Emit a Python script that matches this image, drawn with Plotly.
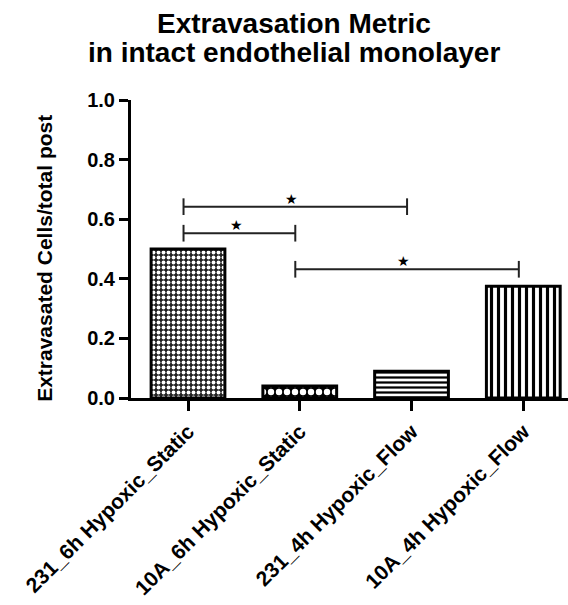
import plotly.graph_objects as go

categories = ["231_6h Hypoxic_Static", "10A_6h Hypoxic_Static", "231_4h Hypoxic_Flow", "10A_4h Hypoxic_Flow"]
values = [0.50, 0.04, 0.09, 0.375]
bracket_start = [0, 0, 1]
bracket_end = [2, 1, 3]
bracket_height = [0.642, 0.553, 0.432]
bracket_label = ["★", "★", "★"]
y_ticks = [0.0, 0.2, 0.4, 0.6, 0.8, 1.0]
title_lines = ["Extravasation Metric", "in intact endothelial monolayer"]
y_title = "Extravasated Cells/total post"

FONT = "Liberation Sans, Arial, sans-serif"
xi = list(range(len(categories)))

pat_style = [
    dict(shape=".", size=5, solidity=0.45, fgcolor="white", bgcolor="#222222", fillmode="replace"),
    dict(shape=".", size=8, solidity=0.5, fgcolor="white", bgcolor="black", fillmode="replace"),
    dict(shape="-", size=5, solidity=0.45, fgcolor="black", bgcolor="white", fillmode="replace"),
    dict(shape="|", size=7, solidity=0.45, fgcolor="black", bgcolor="white", fillmode="replace"),
]

fig = go.Figure()
for i, (c, v) in enumerate(zip(categories, values)):
    fig.add_trace(go.Bar(
        x=[xi[i]], y=[v], width=0.66,
        marker=dict(color="white", line=dict(color="black", width=3), pattern=pat_style[i]),
        showlegend=False,
    ))

off = -0.04
tick_h = 0.028
for s, e, h, lab in zip(bracket_start, bracket_end, bracket_height, bracket_label):
    x0, x1 = s + off, e + off
    fig.add_shape(type="line", x0=x0, x1=x1, y0=h, y1=h, xref="x", yref="y", line=dict(color="#222", width=2))
    for xx in (x0, x1):
        fig.add_shape(type="line", x0=xx, x1=xx, y0=h - tick_h, y1=h + tick_h, xref="x", yref="y", line=dict(color="#222", width=2))
    fig.add_annotation(x=(x0 + x1) / 2 - 0.03, y=h, text=lab, showarrow=False, yanchor="bottom", yshift=-2,
                       font=dict(size=14, color="black", family="DejaVu Sans"))

fig.add_annotation(text=f"<b>{y_title}</b>", xref="paper", yref="paper",
                   x=-0.197, y=0.47, xanchor="center", yanchor="middle", textangle=-90, showarrow=False,
                   font=dict(size=21, color="black", family=FONT))

for line, py in zip(title_lines, [1.258, 1.158]):
    fig.add_annotation(text=f"<b>{line}</b>", xref="paper", yref="paper", x=0.373, y=py,
                       xanchor="center", yanchor="middle", showarrow=False,
                       font=dict(size=28, color="black", family=FONT))

fig.update_layout(
    width=568, height=605,
    margin=dict(l=131, r=0, t=100, b=207),
    paper_bgcolor="white", plot_bgcolor="white",
    font=dict(family=FONT, color="black"),
)
fig.update_xaxes(
    range=[-0.51, 3.40], tickmode="array", tickvals=xi,
    ticktext=[f"<b>{c}</b>" for c in categories], tickangle=-45,
    showline=True, linecolor="black", linewidth=3, ticks="outside", ticklen=10, tickwidth=2.5,
    tickcolor="black", showgrid=False, zeroline=False,
    tickfont=dict(size=21, color="black", family=FONT),
)
fig.update_yaxes(
    range=[0, 1.0], tickmode="array", tickvals=y_ticks, ticktext=[f"<b>{t:.1f}</b>" for t in y_ticks],
    showline=True, linecolor="black", linewidth=3, ticks="outside", ticklen=9, tickwidth=2.5,
    tickcolor="black", showgrid=False, zeroline=False,
    tickfont=dict(size=20, color="black", family=FONT),
)
fig.write_html("out.html")
